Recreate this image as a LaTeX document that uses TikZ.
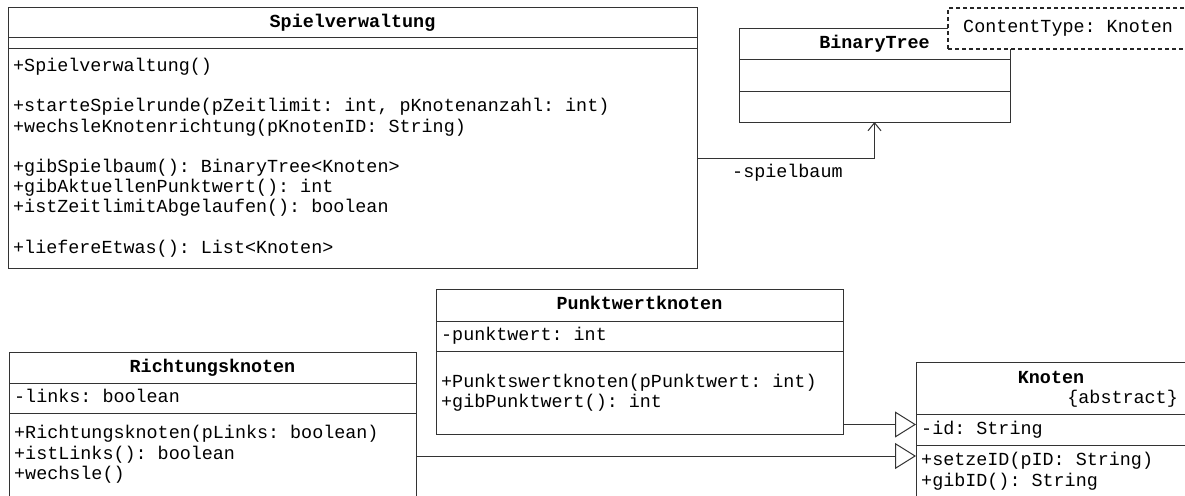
\documentclass[tikz,border=0pt]{standalone}
\usepackage{fontspec}
\newfontfamily\umlfont{Liberation Mono}
\usetikzlibrary{arrows.meta,calc}

\tikzset{
  umlline/.style={draw=black!80, line width=1pt},
  classbox/.style={umlline, fill=white, rectangle, inner sep=0pt, outer sep=0pt, anchor=north west},
  notebox/.style={draw=black!85, line width=1.2pt, dash pattern=on 4pt off 3pt, fill=white,
    rectangle, inner sep=0pt, outer sep=0pt, anchor=north west},
  member/.style={anchor=west, inner sep=0pt,
    font=\umlfont\fontsize{18.4pt}{20.25pt}\selectfont\frenchspacing,
    text height=13.8pt, text depth=4.6pt},
  classtitle/.style={member, anchor=center,
    font=\umlfont\bfseries\fontsize{18.4pt}{20.25pt}\selectfont\frenchspacing},
  inherit/.style={umlline, -{Triangle[open, length=21pt, width=26pt, fill=white]}},
  assoc/.style={umlline, -{Straight Barb[length=8pt, width=13pt]}},
}

\begin{document}
\begin{tikzpicture}[x=1pt, y=-1pt]
\useasboundingbox[fill=white] (0,0) rectangle (1185,495);

% ---------- Spielverwaltung ----------
\node[classbox, minimum width=689pt, minimum height=260pt] (spiel) at (8,8) {};
\draw[umlline] (8,38) -- (697,38);
\draw[umlline] (8,49) -- (697,49);
\node[classtitle] (spielT) at (352.5,23) {Spielverwaltung};
\node[member] (s1) at (13,67) {+Spielverwaltung()};
\node[member] (s2) at (13,107) {+starteSpielrunde(pZeitlimit: int, pKnotenanzahl: int)};
\node[member] (s3) at (13,128) {+wechsleKnotenrichtung(pKnotenID: String)};
\node[member] (s4) at (13,168) {+gibSpielbaum(): BinaryTree<Knoten>};
\node[member] (s5) at (13,188) {+gibAktuellenPunktwert(): int};
\node[member] (s6) at (13,208) {+istZeitlimitAbgelaufen(): boolean};
\node[member] (s7) at (13,249) {+liefereEtwas(): List<Knoten>};

% ---------- BinaryTree ----------
\node[classbox, minimum width=271pt, minimum height=93pt] (bt) at (739,29) {};
\draw[umlline] (739,60) -- (1010,60);
\draw[umlline] (739,91) -- (1010,91);
\node[classtitle] (btT) at (874.5,44) {BinaryTree};

% template parameter note
\node[notebox, minimum width=262pt, minimum height=41pt] (note) at (948,8) {};
\node[member] (noteT) at (963,28) {ContentType: Knoten};

% association Spielverwaltung -> BinaryTree
\coordinate (assocy) at (0,158);
\draw[assoc] (spiel.east |- assocy) -| (bt.south);
\node[member] (roleT) at (732,173) {-spielbaum};

% ---------- Punktwertknoten ----------
\node[classbox, minimum width=407pt, minimum height=145pt] (pk) at (436,289) {};
\draw[umlline] (436,321) -- (843,321);
\draw[umlline] (436,351) -- (843,351);
\node[classtitle] (pkT) at (639.5,305) {Punktwertknoten};
\node[member] (p1) at (441,336) {-punktwert: int};
\node[member] (p2) at (441,383) {+Punktswertknoten(pPunktwert: int)};
\node[member] (p3) at (441,403) {+gibPunktwert(): int};

% ---------- Richtungsknoten ----------
\node[classbox, minimum width=407pt, minimum height=160pt] (rk) at (9,352) {};
\draw[umlline] (9,383) -- (416,383);
\draw[umlline] (9,413) -- (416,413);
\node[classtitle] (rkT) at (212.5,368) {Richtungsknoten};
\node[member] (r1) at (14,398) {-links: boolean};
\node[member] (r2) at (14,434) {+Richtungsknoten(pLinks: boolean)};
\node[member] (r3) at (14,455) {+istLinks(): boolean};
\node[member] (r4) at (14,475) {+wechsle()};

% ---------- Knoten ----------
\node[classbox, minimum width=280pt, minimum height=150pt] (kn) at (916,362) {};
\draw[umlline] (916,414) -- (1196,414);
\draw[umlline] (916,445) -- (1196,445);
\node[classtitle] (knT) at (1051,379) {Knoten};
\node[member, anchor=east] (knA) at (1178,399) {\{abstract\}};
\node[member] (k1) at (921,430) {-id: String};
\node[member] (k2) at (921,461) {+setzeID(pID: String)};
\node[member] (k3) at (921,482) {+gibID(): String};

% generalisations
\coordinate (genP) at (0,424.5);
\coordinate (genR) at (0,456);
\draw[inherit] (pk.east |- genP) -- (kn.west |- genP);
\draw[inherit] (rk.east |- genR) -- (kn.west |- genR);
\end{tikzpicture}
\end{document}
